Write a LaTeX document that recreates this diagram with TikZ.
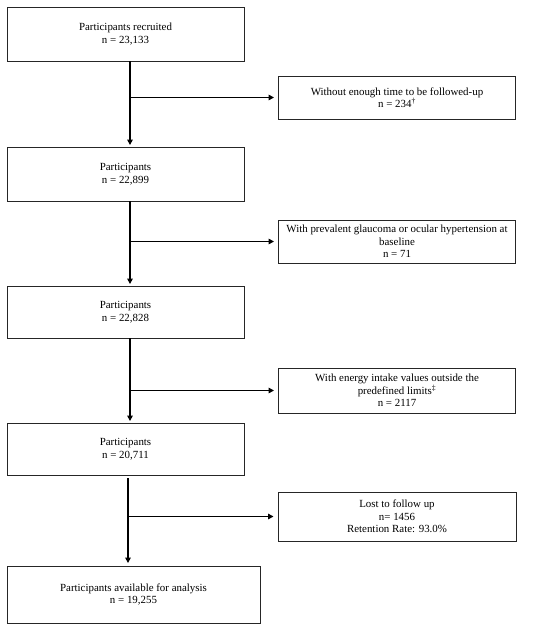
\documentclass[tikz,border=0pt]{standalone}
\usepackage{fontspec}
\setmainfont{Liberation Serif}
\usetikzlibrary{arrows.meta}
\begin{document}
\begin{tikzpicture}[x=1pt,y=1pt,
  box/.style={draw=black!85, line width=0.9pt, inner sep=0pt, align=center,
    font=\fontsize{10.9}{12.5}\selectfont},
  arr/.style={line width=1.8pt, -{Triangle[length=5.5pt,width=5.5pt]}}]
\useasboundingbox (0,0) rectangle (550,-630);
\node[box, minimum width=237, minimum height=54] (b1) at (125.5,-34) {Participants recruited\\n = 23,133};
\node[box, minimum width=237, minimum height=54] (b2) at (125.5,-174) {Participants\\n = 22,899};
\node[box, minimum width=237, minimum height=52] (b3) at (125.5,-312) {Participants\\n = 22,828};
\node[box, minimum width=237, minimum height=52] (b4) at (125.5,-449) {Participants\\n = 20,711};
\node[box, minimum width=253, minimum height=57] (b5) at (133.5,-594.5) {Participants available for analysis\\n = 19,255};
\node[box, minimum width=237, minimum height=43] (r1) at (397,-97.5) {Without enough time to be followed-up\\n = 234\textsuperscript{†}};
\node[box, minimum width=237, minimum height=43] (r2) at (397,-241.5) {With prevalent glaucoma or ocular hypertension at\\baseline\\n = 71};
\node[box, minimum width=237, minimum height=45] (r3) at (397,-390.5) {With energy intake values outside the\\predefined limits\textsuperscript{‡}\\n = 2117};
\node[box, minimum width=238, minimum height=49] (r4) at (397,-516.5) {Lost to follow up\\n= 1456\\Retention Rate: 93.0\%};
\coordinate (tx) at (130,0);
\coordinate (ty) at (128,0);
\draw[arr, shorten >=1.5pt] (b1.south -| tx) -- (b2.north -| tx);
\draw[arr, shorten >=1.5pt] (b2.south -| tx) -- (b3.north -| tx);
\draw[arr, shorten >=1.5pt] (b3.south -| tx) -- (b4.north -| tx);
\draw[arr, shorten >=2.5pt, shorten <=3pt] (b4.south -| ty) -- (b5.north -| ty);
\draw[arr, shorten >=4pt] (r1.west -| tx) -- (r1.west);
\draw[arr, shorten >=4pt] (r2.west -| tx) -- (r2.west);
\draw[arr, shorten >=4pt] (r3.west -| tx) -- (r3.west);
\draw[arr, shorten >=4pt] (r4.west -| ty) -- (r4.west);
\end{tikzpicture}
\end{document}
